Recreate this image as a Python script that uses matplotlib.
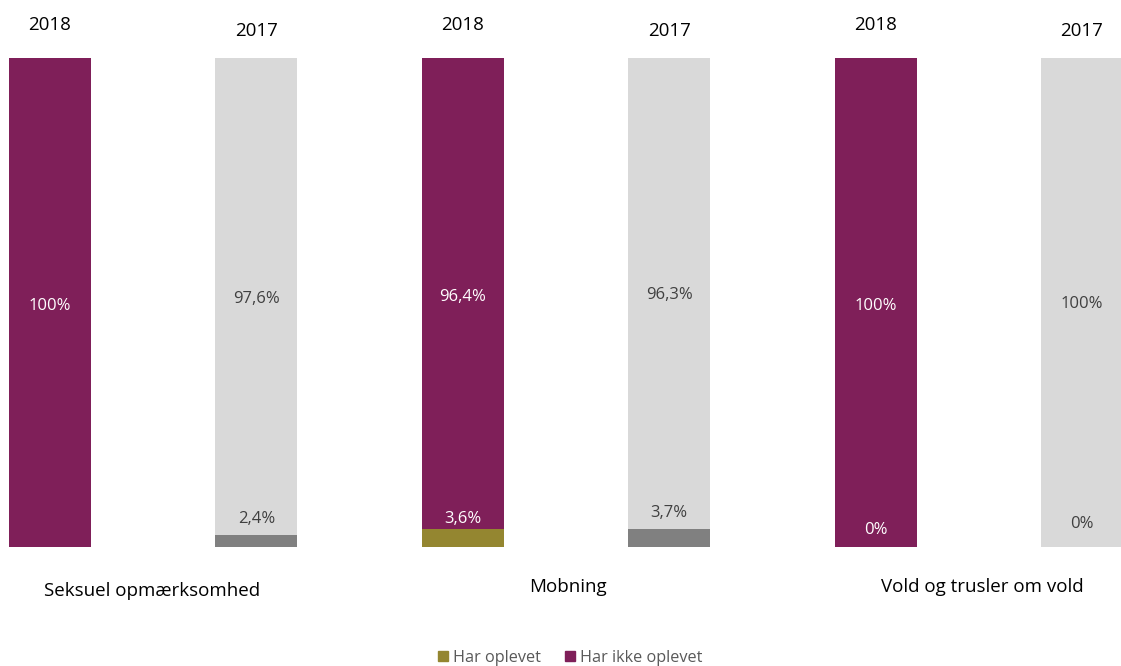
import numpy as np
import matplotlib.pyplot as plt

plt.rcParams['font.family'] = ['Open Sans', 'DejaVu Sans']

categories = ['Seksuel opmærksomhed', 'Mobning', 'Vold og trusler om vold']
years = ['2018', '2017']
oplevet_2018 = [None, 3.6, 0]
ikke_2018 = [100, 96.4, 100]
oplevet_2017 = [2.4, 3.7, 0]
ikke_2017 = [97.6, 96.3, 100]

c_op18, c_ikke18 = '#948630', '#7f1f59'
c_op17, c_ikke17 = '#808080', '#d9d9d9'


def fmt(v):
    if float(v).is_integer():
        return '%d%%' % v
    return ('%.1f%%' % v).replace('.', ',')


def px(p):
    # pixels -> points at dpi 100
    return p * 0.72


fig = plt.figure(figsize=(11.21, 6.66), dpi=100)
W, H = 1121, 666
step = 206.4
ax = fig.add_axes([(50 - 0.2 * step) / W, 119 / H, 5.4 * step / W, 489 / H])
ax.set_xlim(-0.2, 5.2)
ax.set_ylim(0, 100)
ax.axis('off')

bw = 0.397
fs_val = 12
cat_dy = [-44, -40, -40]
cat_dx = [-1, 2, 4]
for i in range(3):
    # 2018 bar
    x = 2 * i
    op = oplevet_2018[i] or 0
    ax.bar(x, op, bw, color=c_op18)
    ax.bar(x, ikke_2018[i], bw, bottom=op, color=c_ikke18)
    ax.annotate(fmt(ikke_2018[i]), (x, op + ikke_2018[i] / 2), xytext=(0, px(-3)),
                textcoords='offset points', ha='center', va='center', color='white', fontsize=fs_val)
    if oplevet_2018[i] is not None:
        off = 10 + (7 if oplevet_2018[i] == 0 else 0)
        ax.annotate(fmt(oplevet_2018[i]), (x, op), xytext=(0, px(off)), textcoords='offset points',
                    ha='center', va='center', color='white', fontsize=fs_val)
    ax.annotate(years[0], (x, 100), xytext=(0, px(33)), textcoords='offset points',
                ha='center', va='center', color='black', fontsize=13.5, annotation_clip=False)

    # 2017 bar
    x = 2 * i + 1
    op = oplevet_2017[i]
    ax.bar(x, op, bw, color=c_op17)
    ax.bar(x, ikke_2017[i], bw, bottom=op, color=c_ikke17)
    ax.annotate(fmt(ikke_2017[i]), (x, op + ikke_2017[i] / 2), xytext=(0, px(-2)),
                textcoords='offset points', ha='center', va='center', color='#404040', fontsize=fs_val)
    off = 16 + (7 if op == 0 else 0)
    ax.annotate(fmt(op), (x, op), xytext=(0, px(off)), textcoords='offset points',
                ha='center', va='center', color='#404040', fontsize=fs_val)
    ax.annotate(years[1], (x, 100), xytext=(0, px(27)), textcoords='offset points',
                ha='center', va='center', color='black', fontsize=13.5, annotation_clip=False)

    ax.annotate(categories[i], (2 * i + 0.5, 0), xytext=(px(cat_dx[i]), px(cat_dy[i])),
                textcoords='offset points', ha='center', va='center', color='black',
                fontsize=13.5, annotation_clip=False)

handles = [plt.Rectangle((0, 0), 1, 1, color=c_op18), plt.Rectangle((0, 0), 1, 1, color=c_ikke18)]
fig.legend(handles, ['Har oplevet', 'Har ikke oplevet'], loc='center', bbox_to_anchor=(570 / W, 1 - 658 / H),
           ncol=2, frameon=False, fontsize=11.7, handlelength=0.6, handleheight=0.6,
           handletextpad=0.3, columnspacing=1.5, labelcolor='#595959')

fig.savefig('out.png', dpi=100)
